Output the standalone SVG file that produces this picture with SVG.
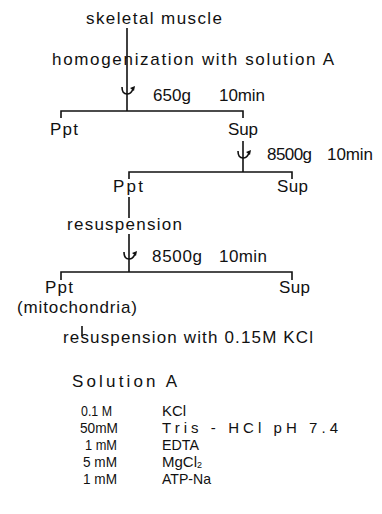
<svg xmlns="http://www.w3.org/2000/svg" width="382" height="514" viewBox="0 0 382 514">
<style>
text{font-family:"Liberation Sans","DejaVu Sans",sans-serif;font-size:17px;fill:#111}
.t{font-size:15px}
.ln{stroke:#111;stroke-width:1.6;fill:none}
.rot{stroke:#111;stroke-width:1.6;fill:none}
</style>
<defs>
<g id="spin">
<path class="rot" d="M-5,-4 Q-5,3 0,3 Q4,3 6,-2"/>
<path d="M3,-3 L8,-5 L7,0 Z" fill="#111"/>
</g>
</defs>
<rect width="382" height="514" fill="#fff"/>
<g id="connectors">
<path class="ln" d="M127,28 V111"/>
<path class="ln" d="M61,118 V111 H243 V118"/>
<path class="ln" d="M243,141 V172"/>
<path class="ln" d="M129,179 V172 H292 V179"/>
<path class="ln" d="M129,197 V218 M129,234 V272"/>
<path class="ln" d="M61,280 V272 H292 V280"/>
<path class="ln" d="M82,326 V336"/>
<use href="#spin" x="127" y="91"/>
<use href="#spin" x="243" y="155"/>
<use href="#spin" x="129" y="256"/>
</g>
<g id="skeletal"><text x="86" y="24" textLength="136" lengthAdjust="spacing">skeletal muscle</text></g>
<g id="homog"><text x="52" y="65" textLength="282" lengthAdjust="spacing">homogenization with solution A</text></g>
<g id="c1"><text x="153" y="101" textLength="38" lengthAdjust="spacing">650g</text><text x="219" y="101" textLength="46" lengthAdjust="spacing">10min</text></g>
<g id="ppt1"><text x="50" y="135" textLength="28" lengthAdjust="spacing">Ppt</text></g>
<g id="sup1"><text x="228" y="135" textLength="30" lengthAdjust="spacing">Sup</text></g>
<g id="c2"><text x="267" y="160" textLength="45" lengthAdjust="spacing">8500g</text><text x="327" y="160" textLength="46" lengthAdjust="spacing">10min</text></g>
<g id="ppt2"><text x="113" y="192" textLength="30" lengthAdjust="spacing">Ppt</text></g>
<g id="sup2"><text x="277" y="192" textLength="31" lengthAdjust="spacing">Sup</text></g>
<g id="resusp"><text x="67" y="230" textLength="115" lengthAdjust="spacing">resuspension</text></g>
<g id="c3"><text x="152" y="262" textLength="50" lengthAdjust="spacing">8500g</text><text x="219" y="262" textLength="48" lengthAdjust="spacing">10min</text></g>
<g id="ppt3"><text x="45" y="293" textLength="28" lengthAdjust="spacing">Ppt</text><text x="17" y="313" textLength="120" lengthAdjust="spacing">(mitochondria)</text></g>
<g id="sup3"><text x="279" y="293" textLength="31" lengthAdjust="spacing">Sup</text></g>
<g id="resusp2"><text x="63" y="343" textLength="250" lengthAdjust="spacing">resuspension with 0.15M  KCl</text></g>
<g id="solutionA">
<text x="72" y="387" textLength="105" lengthAdjust="spacing">Solution A</text>
<text class="t" x="81" y="416" textLength="31" lengthAdjust="spacingAndGlyphs">0.1 M</text>
<text class="t" x="80" y="433" textLength="38" lengthAdjust="spacingAndGlyphs">50mM</text>
<text class="t" x="85" y="450" textLength="32" lengthAdjust="spacingAndGlyphs">1 mM</text>
<text class="t" x="83" y="467" textLength="34" lengthAdjust="spacingAndGlyphs">5 mM</text>
<text class="t" x="83" y="484" textLength="34" lengthAdjust="spacingAndGlyphs">1 mM</text>
<text class="t" x="162" y="416" textLength="24" lengthAdjust="spacingAndGlyphs">KCl</text>
<text class="t" x="162" y="433" textLength="176" lengthAdjust="spacing">Tris  -  HCl   pH 7.4</text>
<text class="t" x="162" y="450" textLength="37" lengthAdjust="spacingAndGlyphs">EDTA</text>
<text class="t" x="162" y="467">MgCl<tspan font-size="9" dy="1">2</tspan></text>
<text class="t" x="162" y="484" textLength="49" lengthAdjust="spacingAndGlyphs">ATP-Na</text>
</g>
</svg>
